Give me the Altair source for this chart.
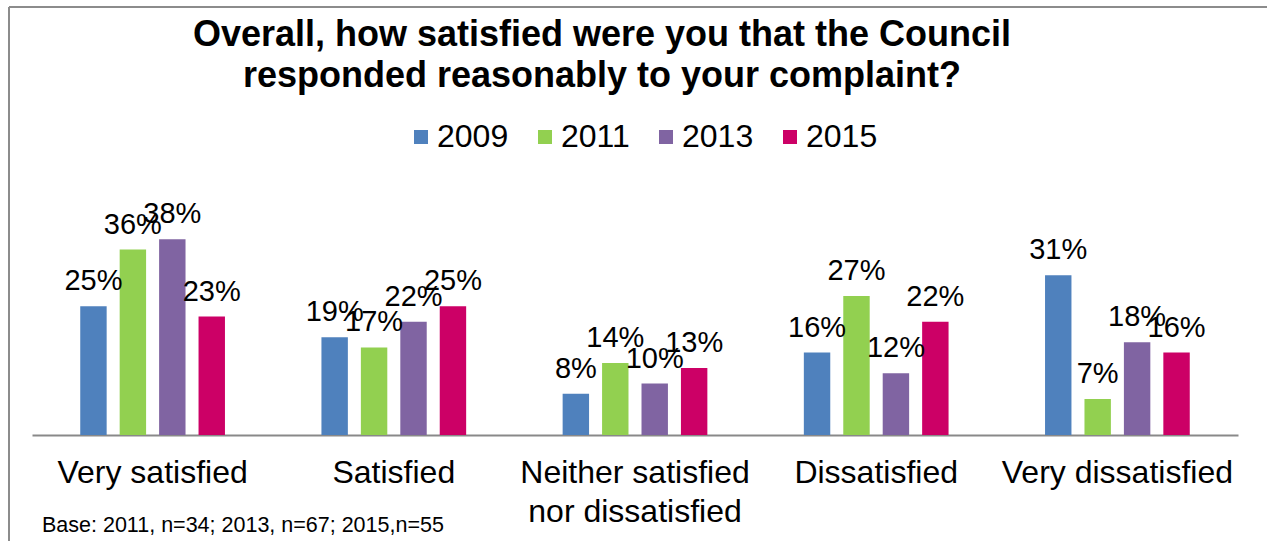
import altair as alt
import pandas as pd

categories = ["Very satisfied", "Satisfied", "Neither satisfied|nor dissatisfied", "Dissatisfied", "Very dissatisfied"]
years = ["2009", "2011", "2013", "2015"]
v2009 = [25, 19, 8, 16, 31]
v2011 = [36, 17, 14, 27, 7]
v2013 = [38, 22, 10, 12, 18]
v2015 = [23, 25, 13, 22, 16]
colors = ["#4F81BD", "#92D050", "#8064A2", "#CC0066"]
title_lines = ["Overall, how satisfied were you that the Council", "responded reasonably to your complaint?"]
footnote = ["Base: 2011, n=34; 2013, n=67; 2015,n=55"]

rows = []
for yr, vals in zip(years, [v2009, v2011, v2013, v2015]):
    for c, v in zip(categories, vals):
        rows.append({"category": c, "year": yr, "value": v, "label": f"{v}%"})
df = pd.DataFrame(rows)

FONT = "Liberation Sans"

x = alt.X(
    "category:N", sort=categories, title=None,
    scale=alt.Scale(paddingInner=0.4, paddingOuter=0.2),
    axis=alt.Axis(
        labelAngle=0, labelFontSize=32, labelFont=FONT, labelColor="#000",
        labelPadding=22, ticks=False, domainColor="#898989", domainWidth=2,
        labelLineHeight=39, labelExpr="split(datum.label, '|')", labelLimit=400,
    ),
)
xoff = alt.XOffset("year:N", sort=years, scale=alt.Scale(paddingInner=0.33, paddingOuter=0))
y = alt.Y("value:Q", scale=alt.Scale(domain=[0, 40]), axis=None)

base = alt.Chart(df)

bars = base.mark_bar().encode(
    x=x, xOffset=xoff, y=y,
    color=alt.Color(
        "year:N",
        scale=alt.Scale(domain=years, range=colors),
        legend=alt.Legend(
            title=None, orient="none", legendX=373, legendY=-108,
            direction="horizontal", symbolType="square", symbolSize=196,
            symbolStrokeWidth=0, labelFontSize=32, labelFont=FONT,
            labelOffset=0, columnPadding=20, labelColor="#000",
        ),
    ),
)

labels = base.mark_text(dy=-16, fontSize=29, font=FONT, baseline="alphabetic", color="#000").encode(
    x=x, xOffset=xoff, y=y, text="label:N"
)

note_df = pd.DataFrame({"t": footnote})
note = alt.Chart(note_df).mark_text(
    fontSize=21.5, font=FONT, align="left", baseline="alphabetic", color="#000"
).encode(x=alt.value(10), y=alt.value(303), text="t:N")

frame_df = pd.DataFrame({"a": [0]})
frame_left = alt.Chart(frame_df).mark_rule(color="#8c8c8c", strokeWidth=2).encode(
    x=alt.value(-23), y=alt.value(-222), y2=alt.value(312)
)
frame_top = alt.Chart(frame_df).mark_rule(color="#8c8c8c", strokeWidth=2).encode(
    x=alt.value(-23), x2=alt.value(1235), y=alt.value(-222)
)

chart = alt.layer(bars, labels, note, frame_left, frame_top).properties(
    width=1206, height=206,
    padding={"left": 32, "top": 229, "right": 29, "bottom": 106},
    autosize=alt.AutoSizeParams(type="none"),
    background="white",
    title=alt.TitleParams(
        text=title_lines, font=FONT, fontSize=36, fontWeight="bold",
        anchor="middle", frame="group", dx=-33, dy=89, offset=0, lineHeight=41, color="#000",
    ),
).configure_view(stroke=None)

chart.save("out.html", embed_options={"renderer": "svg", "actions": False})
